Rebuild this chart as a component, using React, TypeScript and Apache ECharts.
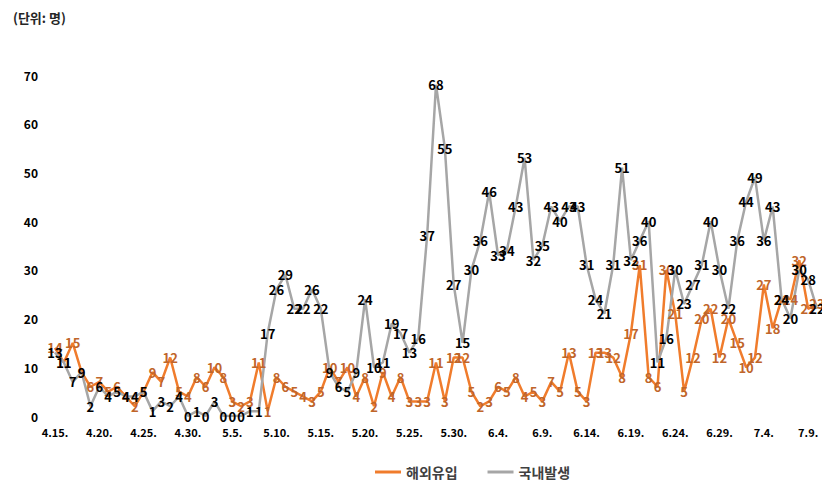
import React, { useEffect, useRef } from "react";
import * as echarts from "echarts";

const dates: string[] = [];
(() => {
  const months: [number, number, number][] = [
    [4, 15, 30],
    [5, 1, 31],
    [6, 1, 30],
    [7, 1, 10],
  ];
  for (const [m, s, e] of months) for (let d = s; d <= e; d++) dates.push(`${m}.${d}.`);
})();

const imported: number[] = [
  14, 11, 15, 9, 6, 7, 5, 6, 4, 2, 5, 9, 7, 12, 5, 4,
  8, 6, 10, 8, 3, 2, 3, 11, 1, 8, 6, 5, 4, 3, 5, 10, 7, 10, 4, 8, 2, 9, 4, 8, 3, 3, 3, 11, 3, 12, 12,
  5, 2, 3, 6, 5, 8, 4, 5, 3, 7, 5, 13, 5, 3, 13, 13, 12, 8, 17, 31, 8, 6, 30, 21, 5, 12, 20, 22, 12, 20,
  15, 10, 12, 27, 18, 24, 24, 32, 22, 23,
];

const domestic: number[] = [
  13, 11, 7, 9, 2, 6, 4, 5, 4, 4, 5, 1, 3, 2, 4, 0,
  1, 0, 3, 0, 0, 0, 1, 1, 17, 26, 29, 22, 22, 26, 22, 9, 6, 5, 9, 24, 10, 11, 19, 17, 13, 16, 37, 68, 55, 27, 15,
  30, 36, 46, 33, 34, 43, 53, 32, 35, 43, 40, 43, 43, 31, 24, 21, 31, 51, 32, 36, 40, 11, 16, 30, 23, 27, 31, 40, 30, 22,
  36, 44, 49, 36, 43, 24, 20, 30, 28, 22,
];

const seriesNames = ["해외유입", "국내발생"];
const unitLabel = "(단위: 명)";

const FONT = "'Noto Sans CJK KR', 'Noto Sans', sans-serif";

export default function App() {
  const ref = useRef<HTMLDivElement>(null);
  useEffect(() => {
    document.body.style.margin = "0";
    const chart = echarts.init(ref.current!, undefined, { renderer: "svg" });
    chart.setOption({
      animation: false,
      backgroundColor: "#ffffff",
      title: {
        text: unitLabel,
        left: 8,
        top: 6,
        textStyle: { fontFamily: FONT, fontSize: 13, fontWeight: "bold", color: "#262626" },
      },
      legend: {
        left: 370,
        top: 460,
        itemGap: 30,
        itemWidth: 26,
        itemHeight: 3,
        icon: "rect",
        textStyle: { fontFamily: FONT, fontSize: 14, color: "#404040", fontWeight: "bold" },
        data: seriesNames,
      },
      grid: { left: 55, right: 5, top: 75, bottom: 66, containLabel: false },
      xAxis: {
        type: "category",
        boundaryGap: false,
        data: dates,
        axisLine: { show: false },
        axisTick: { show: false },
        axisLabel: {
          interval: 4,
          margin: 10,
          fontFamily: FONT,
          fontSize: 11,
          fontWeight: "bold",
          color: "#000",
        },
      },
      yAxis: {
        type: "value",
        min: 0,
        max: 70,
        interval: 10,
        axisLine: { show: false },
        axisTick: { show: false },
        splitLine: { show: false },
        axisLabel: {
          margin: 17,
          fontFamily: FONT,
          fontSize: 12,
          fontWeight: "bold",
          color: "#000",
        },
      },
      series: [
        {
          name: seriesNames[0],
          type: "line",
          data: imported,
          symbol: "circle",
          symbolSize: 0,
          showSymbol: true,
          lineStyle: { color: "#F07C2C", width: 2.5 },
          itemStyle: { color: "#F07C2C" },
          label: {
            show: true,
            position: "inside",
            fontFamily: FONT,
            fontSize: 13,
            fontWeight: "bold",
            color: "#C0652A",
          },
        },
        {
          name: seriesNames[1],
          type: "line",
          data: domestic,
          symbol: "circle",
          symbolSize: 0,
          showSymbol: true,
          lineStyle: { color: "#A6A6A6", width: 2.5 },
          itemStyle: { color: "#A6A6A6" },
          label: {
            show: true,
            position: "inside",
            fontFamily: FONT,
            fontSize: 13,
            fontWeight: "bold",
            color: "#000",
          },
        },
      ],
    });
    return () => chart.dispose();
  }, []);
  return <div ref={ref} style={{ width: 822, height: 482 }} />;
}
